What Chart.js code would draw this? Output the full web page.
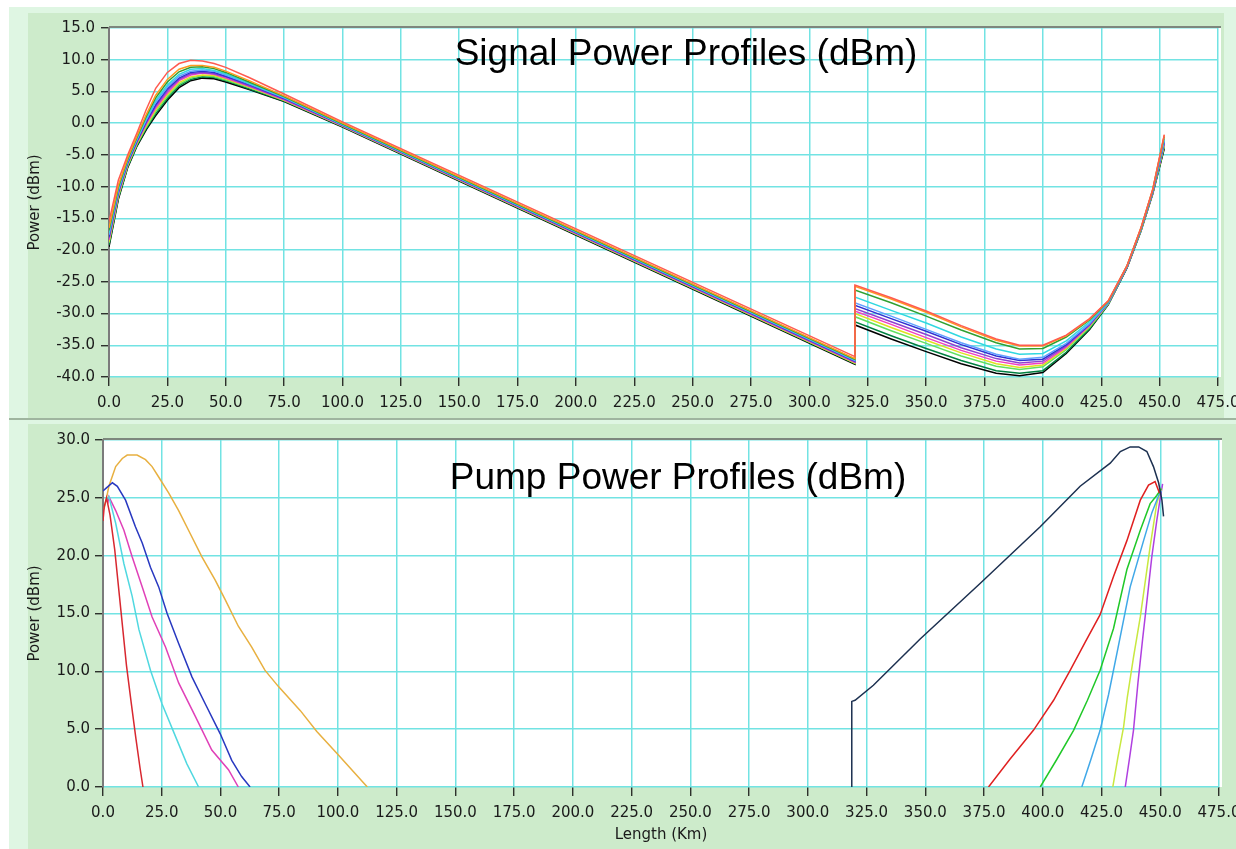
<!DOCTYPE html>
<html>
<head>
<meta charset="utf-8">
<title>Signal / Pump Power Profiles</title>
<script src="https://cdn.jsdelivr.net/npm/chart.js@4.4.1/dist/chart.umd.min.js"></script>
<style>
  body { margin: 0; background: #fff; width: 1236px; height: 849px; position: relative; overflow: hidden; }
  .mint { position: absolute; left: 9px; top: 7px; right: 0; bottom: 0; background: #dff6e3; }
  .panel { position: absolute; background: #cdebcb; }
  #topPanel { left: 28px; top: 13px; width: 1196px; height: 405px; }
  #botPanel { left: 28px; top: 424px; width: 1208px; height: 425px; }
  #sep { position: absolute; left: 9px; right: 0; top: 418px; height: 2px; background: #9fb59f; }
  canvas { position: absolute; left: 0; }
  #signalChart { top: 0; }
  #pumpChart { top: 418px; }
</style>
</head>
<body>
<div class="mint"></div>
<div class="panel" id="topPanel"></div>
<div id="sep"></div>
<div class="panel" id="botPanel"></div>
<canvas id="signalChart" width="1236" height="418"></canvas>
<canvas id="pumpChart" width="1236" height="431"></canvas>
<script>
// values (km / dBm)
var xTicks = [0, 25, 50, 75, 100, 125, 150, 175, 200, 225, 250, 275, 300, 325, 350, 375, 400, 425, 450, 475];
var signalYTicks = [-40, -35, -30, -25, -20, -15, -10, -5, 0, 5, 10, 15];
var pumpYTicks = [0, 5, 10, 15, 20, 25, 30];

// signal channels: one shared length axis, span 1 up to 319.5 km, span 2 after it
var signalKm = [0, 4, 8, 12, 16, 20, 25, 30, 35, 40, 45, 50, 60, 75, 100, 319.5,
                319.5, 335, 350, 365, 380, 390, 400, 410, 420, 428, 436, 442, 447, 452];
var sig01 = [-15.5, -9.0, -5.0, -1.5, 2.2, 5.5, 8.0, 9.4, 9.9, 9.8, 9.4, 8.8, 7.2, 4.6, 0.2, -36.8,
             -25.5, -27.5, -29.6, -31.9, -34.0, -35.0, -35.0, -33.4, -30.8, -28.0, -22.5, -16.5, -10.5, -1.8];
var sig02 = [-16.5, -9.8, -5.5, -2.0, 1.4, 4.4, 6.9, 8.5, 9.1, 9.1, 8.8, 8.2, 6.7, 4.3, 0.0, -37.1,
             -25.7, -27.7, -29.8, -32.1, -34.2, -35.1, -35.1, -33.5, -30.9, -28.0, -22.5, -16.5, -10.5, -1.9];
var sig03 = [-16.9, -10.1, -5.7, -2.2, 1.1, 4.0, 6.5, 8.1, 8.8, 8.9, 8.6, 8.0, 6.5, 4.2, -0.1, -37.2,
             -26.3, -28.3, -30.4, -32.6, -34.6, -35.6, -35.5, -33.7, -31.0, -28.1, -22.5, -16.6, -10.6, -2.1];
var sig04 = [-17.3, -10.4, -5.9, -2.4, 0.8, 3.6, 6.0, 7.7, 8.5, 8.6, 8.3, 7.8, 6.3, 4.1, -0.2, -37.3,
             -27.4, -29.5, -31.5, -33.7, -35.6, -36.4, -36.3, -34.3, -31.3, -28.2, -22.6, -16.7, -10.7, -2.5];
var sig05 = [-17.6, -10.6, -6.0, -2.6, 0.5, 3.3, 5.7, 7.4, 8.2, 8.4, 8.2, 7.6, 6.2, 4.0, -0.2, -37.4,
             -28.3, -30.4, -32.5, -34.6, -36.4, -37.2, -36.9, -34.7, -31.6, -28.3, -22.6, -16.7, -10.8, -2.8];
var sig06 = [-17.9, -10.8, -6.2, -2.8, 0.3, 2.9, 5.4, 7.1, 8.0, 8.2, 8.0, 7.4, 6.1, 3.9, -0.3, -37.5,
             -28.7, -30.8, -32.8, -34.9, -36.7, -37.4, -37.2, -34.9, -31.7, -28.3, -22.7, -16.8, -10.9, -2.9];
var sig07 = [-18.1, -11.0, -6.3, -2.9, 0.1, 2.7, 5.1, 6.9, 7.8, 8.0, 7.8, 7.3, 5.9, 3.8, -0.3, -37.6,
             -29.2, -31.3, -33.3, -35.4, -37.1, -37.8, -37.5, -35.1, -31.8, -28.3, -22.7, -16.8, -10.9, -3.1];
var sig08 = [-18.4, -11.2, -6.4, -3.0, -0.1, 2.4, 4.8, 6.7, 7.6, 7.9, 7.7, 7.1, 5.8, 3.7, -0.4, -37.7,
             -29.6, -31.7, -33.8, -35.8, -37.5, -38.1, -37.8, -35.3, -31.9, -28.4, -22.7, -16.8, -11.0, -3.2];
var sig09 = [-18.7, -11.4, -6.6, -3.2, -0.4, 2.1, 4.5, 6.4, 7.3, 7.6, 7.5, 7.0, 5.7, 3.6, -0.4, -37.8,
             -30.0, -32.2, -34.2, -36.2, -37.9, -38.5, -38.1, -35.5, -32.0, -28.4, -22.7, -16.9, -11.0, -3.4];
var sig10 = [-18.9, -11.6, -6.7, -3.3, -0.6, 1.8, 4.2, 6.1, 7.1, 7.5, 7.3, 6.8, 5.6, 3.6, -0.5, -37.8,
             -30.5, -32.7, -34.7, -36.7, -38.3, -38.8, -38.4, -35.7, -32.2, -28.5, -22.7, -16.9, -11.1, -3.6];
var sig11 = [-19.2, -11.8, -6.9, -3.5, -0.8, 1.5, 3.9, 5.9, 6.9, 7.3, 7.2, 6.7, 5.4, 3.5, -0.5, -37.9,
             -31.3, -33.5, -35.5, -37.4, -39.0, -39.4, -39.0, -36.1, -32.4, -28.6, -22.8, -17.0, -11.1, -3.8];
var sig12 = [-19.5, -12.0, -7.0, -3.6, -1.0, 1.2, 3.6, 5.6, 6.7, 7.1, 7.0, 6.5, 5.3, 3.4, -0.6, -38.0,
             -31.8, -34.0, -36.0, -37.9, -39.4, -39.8, -39.3, -36.3, -32.5, -28.6, -22.8, -17.0, -11.2, -4.0];
var signalSeries = [sig01, sig02, sig03, sig04, sig05, sig06, sig07, sig08, sig09, sig10, sig11, sig12];
var signalColors = ['#ff5a50', '#ff9a20', '#30a030', '#30d8e0', '#60a0ff', '#3030d0',
                    '#9040d0', '#f040c0', '#e0e020', '#60e060', '#008040', '#000000'];

// pumps, forward (launched at 0 km)
var redFwdKm = [0, 0.5, 1.5, 3, 5, 7, 8.5, 10, 12, 14, 15.8, 17];
var redFwdDb = [23.0, 24.2, 25.0, 23.5, 20.5, 16.5, 13.5, 10.5, 7.3, 4.2, 1.6, 0];
var cyanFwdKm = [1.5, 2.5, 5.4, 8.9, 12.4, 15.3, 20.2, 25.1, 30.8, 35.7, 40.7];
var cyanFwdDb = [24.8, 25.1, 22.8, 19.3, 16.5, 13.6, 10.1, 7.2, 4.4, 2.0, 0];
var magentaFwdKm = [2.0, 2.5, 5.4, 8.9, 12.4, 16.7, 20.9, 26.6, 32.2, 39.3, 46.3, 53.4, 57.6];
var magentaFwdDb = [24.5, 25.1, 23.9, 22.2, 19.9, 17.3, 14.7, 12.1, 9.0, 6.1, 3.2, 1.5, 0];
var blueFwdKm = [0, 1.1, 4.0, 6.1, 9.6, 13.8, 16.7, 20.2, 23.7, 27.3, 32.2, 37.9, 43.5, 49.9, 54.8, 59.0, 62.6];
var blueFwdDb = [25.6, 25.8, 26.3, 26.0, 24.8, 22.5, 21.1, 19.0, 17.3, 15.0, 12.4, 9.5, 7.2, 4.6, 2.3, 0.9, 0];
var orangeFwdKm = [0.4, 1.5, 2.5, 5.4, 8.2, 10.3, 14.5, 18.1, 20.9, 23.7, 28.0, 32.2, 36.4, 42.1, 47.7,
                   52.0, 57.6, 63.3, 68.9, 74.6, 84.0, 91.0, 100.0, 112.5];
var orangeFwdDb = [24.0, 25.0, 26.0, 27.7, 28.4, 28.7, 28.7, 28.3, 27.7, 26.8, 25.4, 23.9, 22.2, 19.9, 17.9,
                   16.2, 13.9, 12.1, 10.1, 8.7, 6.6, 4.8, 2.8, 0];

// pumps, backward (launched at the far end)
var navyBwdKm = [318.7, 318.7, 320.1, 327.9, 347.8, 373.3, 398.9, 415.9, 428.7, 433.0, 437.2, 440.8,
                 444.3, 447.1, 449.3, 450.7, 451.4];
var navyBwdDb = [0, 7.4, 7.5, 8.8, 12.8, 17.6, 22.5, 26.0, 28.0, 29.0, 29.4, 29.4, 29.0, 27.7, 26.3, 24.8, 23.4];
var redBwdKm = [376.9, 386.0, 396.0, 404.6, 411.7, 418.0, 424.4, 430.1, 435.8, 441.5, 445.0, 447.8, 449.7];
var redBwdDb = [0, 2.4, 4.9, 7.5, 10.1, 12.5, 14.9, 18.2, 21.3, 24.8, 26.1, 26.4, 25.4];
var greenBwdKm = [398.9, 406.0, 413.1, 419.0, 424.4, 430.1, 435.8, 441.5, 445.7, 448.5, 450.5];
var greenBwdDb = [0, 2.4, 4.9, 7.5, 10.1, 13.7, 18.8, 22.2, 24.5, 25.2, 25.8];
var skyBwdKm = [416.6, 420.5, 424.4, 428.0, 432.0, 437.2, 442.9, 446.4, 449.3, 450.5];
var skyBwdDb = [0, 2.4, 4.9, 8.0, 12.0, 17.3, 21.3, 23.7, 25.2, 25.6];
var yellowBwdKm = [429.8, 432.0, 434.4, 436.0, 438.6, 441.5, 445.7, 448.5, 450.5];
var yellowBwdDb = [0, 2.6, 5.2, 7.8, 11.2, 14.7, 20.8, 24.5, 25.8];
var purpleBwdKm = [435.1, 437.0, 438.6, 440.5, 442.5, 444.5, 446.4, 448.5, 450.0, 451.0];
var purpleBwdDb = [0, 2.6, 4.9, 9.0, 12.8, 16.4, 19.9, 23.0, 25.0, 26.2];

var gridCyan = '#72e3e3';
var tickFont = { family: 'DejaVu Sans', size: 15 };

function pts(xs, ys) {
  return xs.map(function(x, i) { return { x: x, y: ys[i] }; });
}

function line(xs, ys, color) {
  return { data: pts(xs, ys), borderColor: color, borderWidth: 1.5, pointRadius: 0, fill: false, tension: 0 };
}

// white plot area, grey top edge and the big caption inside the plot
var framePlugin = {
  id: 'frame',
  beforeDraw: function(chart) {
    var a = chart.chartArea, ctx = chart.ctx;
    ctx.save();
    ctx.fillStyle = '#ffffff';
    ctx.fillRect(a.left, a.top, a.right - a.left + 3, a.bottom - a.top);
    ctx.restore();
  },
  beforeDatasetsDraw: function(chart) {
    var a = chart.chartArea, ctx = chart.ctx;
    ctx.save();
    ctx.strokeStyle = '#7d877d';
    ctx.lineWidth = 2;
    ctx.beginPath();
    ctx.moveTo(a.left, a.top - 1);
    ctx.lineTo(a.right + 3, a.top - 1);
    ctx.stroke();
    ctx.restore();
  },
  afterDatasetsDraw: function(chart, args, opts) {
    var ctx = chart.ctx;
    ctx.save();
    ctx.font = '37px "Liberation Sans", Arial, sans-serif';
    ctx.fillStyle = '#000';
    ctx.textAlign = 'center';
    ctx.textBaseline = 'alphabetic';
    ctx.fillText(opts.text, opts.x, opts.y);
    ctx.restore();
  }
};

function xAxis(height, title) {
  return {
    type: 'linear', min: 0, max: 475,
    afterBuildTicks: function(s) { s.ticks = xTicks.map(function(v) { return { value: v }; }); },
    afterFit: function(s) { s.height = height; s.paddingLeft = 0; s.paddingRight = 0; },
    grid: { color: gridCyan, lineWidth: 1.5, tickColor: '#111', tickWidth: 1.2, tickLength: 9 },
    border: { display: false },
    ticks: { font: tickFont, color: '#1a1a1a', padding: 8, maxRotation: 0, autoSkip: false,
             callback: function(v) { return v.toFixed(1); } },
    title: title ? { display: true, text: title, font: { family: 'DejaVu Sans', size: 15 }, color: '#1a1a1a',
                     padding: { top: 0, bottom: 5 } } : { display: false }
  };
}

function yAxis(width, lo, hi, tickList, pad) {
  return {
    type: 'linear', min: lo, max: hi,
    afterBuildTicks: function(s) { s.ticks = tickList.map(function(v) { return { value: v }; }); },
    afterFit: function(s) { s.width = width; s.paddingTop = 0; s.paddingBottom = 0; },
    grid: { color: gridCyan, lineWidth: 1.5, tickColor: '#111', tickWidth: 1.2, tickLength: 8 },
    border: { display: true, color: '#7b7b7b', width: 2 },
    ticks: { font: tickFont, color: '#1a1a1a', padding: pad, autoSkip: false,
             callback: function(v) { return v.toFixed(1); } },
    title: { display: true, text: 'Power (dBm)', font: { family: 'DejaVu Sans', size: 15 }, color: '#1a1a1a',
             padding: { top: 26, bottom: 0 } }
  };
}

var signalSets = signalSeries.map(function(ys, i) { return line(signalKm, ys, signalColors[i]); });

new Chart(document.getElementById('signalChart'), {
  type: 'line',
  data: { datasets: signalSets },
  options: {
    responsive: false, animation: false, devicePixelRatio: 1, parsing: false,
    layout: { padding: { left: 0, right: 18, top: 28, bottom: 0 } },
    scales: { x: xAxis(41, null), y: yAxis(109, -40, 15, signalYTicks, 6) },
    plugins: { legend: { display: false }, tooltip: { enabled: false },
               frame: { text: 'Signal Power Profiles (dBm)', x: 686, y: 65 } }
  },
  plugins: [framePlugin]
});

new Chart(document.getElementById('pumpChart'), {
  type: 'line',
  data: { datasets: [
    line(redFwdKm, redFwdDb, '#d82830'),
    line(cyanFwdKm, cyanFwdDb, '#50d8e0'),
    line(magentaFwdKm, magentaFwdDb, '#e040b8'),
    line(blueFwdKm, blueFwdDb, '#2838c0'),
    line(orangeFwdKm, orangeFwdDb, '#e8b040'),
    line(navyBwdKm, navyBwdDb, '#1c3050'),
    line(redBwdKm, redBwdDb, '#e02020'),
    line(greenBwdKm, greenBwdDb, '#20c828'),
    line(skyBwdKm, skyBwdDb, '#40a8e8'),
    line(yellowBwdKm, yellowBwdDb, '#c8e840'),
    line(purpleBwdKm, purpleBwdDb, '#b040e0')
  ] },
  options: {
    responsive: false, animation: false, devicePixelRatio: 1, parsing: false,
    layout: { padding: { left: 0, right: 17, top: 22, bottom: 0 } },
    scales: { x: xAxis(62, 'Length (Km)'), y: yAxis(103, 0, 30, pumpYTicks, 5) },
    plugins: { legend: { display: false }, tooltip: { enabled: false },
               frame: { text: 'Pump Power Profiles (dBm)', x: 678, y: 71 } }
  },
  plugins: [framePlugin]
});
</script>
</body>
</html>
